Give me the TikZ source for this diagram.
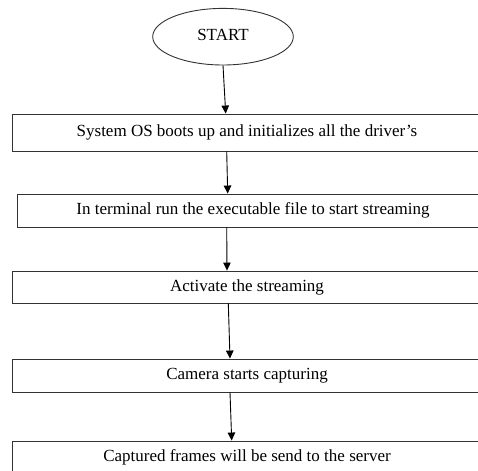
\documentclass[tikz,border=0pt]{standalone}
\usepackage{fontspec}
\setmainfont{Liberation Serif}
\usetikzlibrary{arrows.meta,shapes.geometric}
\begin{document}
\begin{tikzpicture}[x=1pt,y=-1pt,
  stepbox/.style={draw=black!80,line width=0.9pt,rectangle,inner sep=0pt,
    font=\fontsize{17}{20}\selectfont,text=black},
  startnode/.style={draw=black!80,line width=0.9pt,ellipse,inner sep=0pt,
    minimum width=140.6pt,minimum height=56.6pt,font=\fontsize{17}{20}\selectfont},
  flow/.style={draw=black,line width=0.9pt,-{Triangle[length=8pt,width=7.5pt]}}]
\useasboundingbox (0,0) rectangle (478,470);
\clip (0,0) rectangle (478,470);
\node[startnode] (start) at (223,36.7) {\raisebox{3pt}{START}};
\node[stepbox,minimum width=470pt,minimum height=37pt] (b1) at (247,132.5)
  {System OS boots up and initializes all the driver’s};
\node[stepbox,minimum width=472pt,minimum height=33pt] (b2) at (253,210.5)
  {In terminal run the executable file to start streaming};
\node[stepbox,minimum width=470pt,minimum height=32pt] (b3) at (247,287)
  {Activate the streaming};
\node[stepbox,minimum width=470pt,minimum height=33pt] (b4) at (247,375.5)
  {Camera starts capturing};
\node[stepbox,minimum width=470pt,minimum height=32pt] (b5) at (247,457)
  {Captured frames will be send to the server};
\draw[flow] (start.south) -- ([xshift=-21.3pt]b1.north);
\draw[flow] ([xshift=-20.3pt]b1.south) -- ([xshift=-25.3pt]b2.north);
\draw[flow] ([xshift=-26.3pt]b2.south) -- ([xshift=-20pt]b3.north);
\draw[flow] ([xshift=-18.7pt]b3.south) -- ([xshift=-17pt]b4.north);
\draw[flow] ([xshift=-17pt]b4.south) -- ([xshift=-15.3pt]b5.north);
\end{tikzpicture}
\end{document}
